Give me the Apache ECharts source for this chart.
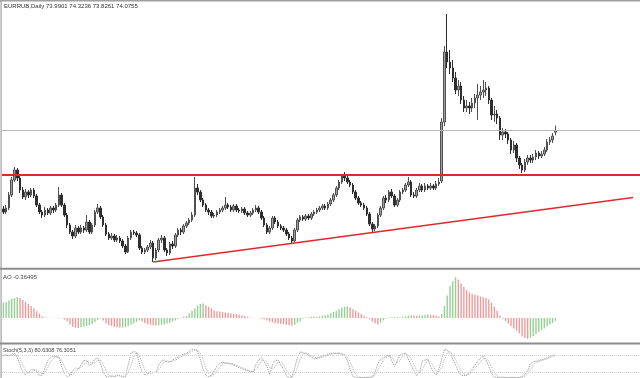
<!DOCTYPE html>
<html><head><meta charset="utf-8">
<script src="https://cdn.jsdelivr.net/npm/echarts@6/dist/echarts.min.js"></script>
<style>html,body{margin:0;padding:0;background:#fff;overflow:hidden}#c{width:640px;height:378px}</style>
</head><body><div id="c"></div>
<script>
const headerText = 'EURRUB,Daily 73.9901 74.3236 73.8261 74.0755';
const aoText = 'AO -0.36495';
const stochText = 'Stoch(5,3,3) 80.6308 76.3051';

const opens = [
70.15,70.00,70.20,70.85,71.60,72.10,71.70,71.10,70.75,71.00,
70.85,71.10,70.80,70.35,70.00,69.85,70.10,69.95,70.20,70.10,
70.35,70.85,70.35,69.85,69.35,69.00,68.80,69.20,69.00,69.20,
69.10,69.50,69.00,69.35,70.00,70.20,69.75,69.35,68.90,68.70,
68.80,68.60,68.70,68.55,68.30,68.00,68.70,69.00,68.95,68.85,
68.20,68.00,68.10,68.25,68.45,67.70,68.10,68.60,68.70,68.10,
67.95,68.40,68.30,68.85,69.10,69.00,69.30,69.45,69.60,69.85,
71.20,71.00,70.60,70.35,70.10,70.00,69.80,69.85,70.00,70.10,
70.20,70.35,70.25,70.10,70.30,70.10,70.05,70.15,69.95,69.85,
69.95,70.10,70.20,70.00,69.70,69.35,69.00,69.20,69.70,69.50,
69.30,69.20,69.10,68.90,68.70,68.55,69.10,69.60,69.75,69.65,
69.80,69.70,69.90,70.00,70.10,70.20,70.30,70.20,70.40,70.60,
70.85,71.20,71.50,71.80,71.70,71.50,71.35,71.00,70.70,70.45,
70.35,70.20,69.90,69.40,69.15,69.30,69.85,70.20,70.70,70.60,
71.00,70.80,70.35,70.60,71.00,71.10,71.35,71.50,70.85,70.80,
71.10,71.30,71.10,71.30,71.20,71.30,71.20,71.40,71.55,74.50,
78.00,77.50,77.20,76.70,76.10,76.30,75.60,75.20,75.30,75.20,
75.45,75.70,75.85,76.00,76.10,76.20,75.60,74.85,74.90,74.70,
73.85,74.00,73.90,73.60,73.10,73.35,72.70,72.35,72.10,72.50,
72.70,72.60,72.75,72.95,72.80,72.90,73.10,73.50,73.60,73.99];

const closes = [
70.00,70.20,70.85,71.60,72.10,71.70,71.10,70.75,71.00,70.85,
71.10,70.80,70.35,70.00,69.85,70.10,69.95,70.20,70.10,70.35,
70.85,70.35,69.85,69.35,69.00,68.80,69.20,69.00,69.20,69.10,
69.50,69.00,69.35,70.00,70.20,69.75,69.35,68.90,68.70,68.80,
68.60,68.70,68.55,68.30,68.00,68.70,69.00,68.95,68.85,68.20,
68.00,68.10,68.25,68.45,67.70,68.10,68.60,68.70,68.10,67.95,
68.40,68.30,68.85,69.10,69.00,69.30,69.45,69.60,69.85,71.20,
71.00,70.60,70.35,70.10,70.00,69.80,69.85,70.00,70.10,70.20,
70.35,70.25,70.10,70.30,70.10,70.05,70.15,69.95,69.85,69.95,
70.10,70.20,70.00,69.70,69.35,69.00,69.20,69.70,69.50,69.30,
69.20,69.10,68.90,68.70,68.55,69.10,69.60,69.75,69.65,69.80,
69.70,69.90,70.00,70.10,70.20,70.30,70.20,70.40,70.60,70.85,
71.20,71.50,71.80,71.70,71.50,71.35,71.00,70.70,70.45,70.35,
70.20,69.90,69.40,69.15,69.30,69.85,70.20,70.70,70.60,71.00,
70.80,70.35,70.60,71.00,71.10,71.35,71.50,70.85,70.80,71.10,
71.30,71.10,71.30,71.20,71.30,71.20,71.40,71.50,74.50,78.00,
77.50,77.20,76.70,76.10,76.30,75.60,75.20,75.30,75.20,75.45,
75.70,75.85,76.00,76.10,76.20,75.60,74.85,74.90,74.70,73.85,
74.00,73.90,73.60,73.10,73.35,72.70,72.35,72.10,72.50,72.70,
72.60,72.75,72.95,72.80,72.90,73.10,73.50,73.60,73.80,74.08];

const lows = [
69.90,69.90,70.10,70.75,71.50,71.55,70.95,70.65,70.60,70.70,
70.75,70.70,70.25,69.90,69.70,69.75,69.85,69.85,69.95,70.00,
70.25,70.25,69.75,69.20,68.90,68.65,68.70,68.90,68.90,68.95,
69.00,68.90,68.90,69.25,69.90,69.65,69.25,68.80,68.60,68.60,
68.50,68.50,68.45,68.20,67.90,67.95,68.60,68.85,68.75,68.10,
67.90,67.90,68.00,68.15,67.50,67.60,68.00,68.45,68.00,67.80,
67.85,68.15,68.20,68.75,68.85,68.90,69.20,69.35,69.50,69.75,
70.85,70.50,70.25,70.00,69.85,69.70,69.70,69.75,69.90,70.00,
70.10,70.15,70.00,70.00,70.00,69.95,69.95,69.85,69.75,69.75,
69.85,70.00,69.90,69.60,69.25,68.90,68.90,69.10,69.40,69.20,
69.10,69.00,68.80,68.60,68.45,68.50,69.00,69.50,69.55,69.55,
69.60,69.60,69.80,69.90,70.00,70.10,70.10,70.10,70.30,70.50,
70.75,71.10,71.40,71.55,71.40,71.25,70.90,70.60,70.35,70.25,
70.10,69.80,69.30,69.00,69.05,69.20,69.75,70.10,70.45,70.50,
70.70,70.25,70.25,70.50,70.90,71.00,71.25,70.75,70.70,70.70,
71.00,71.00,71.00,71.10,71.10,71.10,71.10,71.30,71.45,74.30,
77.20,76.90,76.50,75.90,75.80,75.40,75.00,75.00,74.90,75.00,
75.20,74.60,75.60,75.70,75.80,75.40,74.60,74.50,74.40,73.60,
73.60,73.70,73.40,72.90,72.95,72.50,72.15,71.95,72.00,72.35,
72.45,72.45,72.60,72.65,72.70,72.80,73.00,73.35,73.45,73.83];

const highs = [
70.30,70.35,71.00,71.75,72.25,72.20,71.80,71.25,71.15,71.10,
71.20,71.20,70.90,70.45,70.10,70.25,70.20,70.30,70.30,70.45,
71.25,70.95,70.45,69.95,69.45,69.10,69.35,69.30,69.35,69.30,
69.85,69.60,69.45,70.10,70.40,70.30,69.85,69.45,69.00,68.95,
68.90,68.85,68.80,68.65,68.40,68.80,69.10,69.10,69.05,68.95,
68.30,68.20,68.35,68.60,68.55,68.20,68.70,68.85,68.80,68.20,
68.50,68.55,68.95,69.20,69.20,69.40,69.55,69.70,70.00,71.75,
71.40,71.10,70.70,70.45,70.20,70.10,69.95,70.10,70.20,70.30,
70.75,70.45,70.35,70.40,70.40,70.20,70.25,70.25,70.05,70.05,
70.20,70.35,70.30,70.10,69.80,69.45,69.30,69.80,69.80,69.60,
69.40,69.30,69.20,69.00,68.80,69.20,69.70,69.85,69.85,69.90,
69.90,70.00,70.10,70.20,70.30,70.40,70.40,70.50,70.70,70.95,
71.30,71.60,71.90,72.00,71.80,71.60,71.45,71.10,70.80,70.55,
70.45,70.30,70.00,69.50,69.40,69.95,70.30,70.80,70.85,71.10,
71.15,70.90,70.70,71.10,71.20,71.45,71.75,71.60,71.00,71.20,
71.45,71.40,71.45,71.40,71.45,71.40,71.55,71.70,74.70,78.30,
79.90,78.10,77.60,77.00,76.60,76.50,75.80,75.60,75.50,75.70,
75.90,76.40,76.30,76.60,76.50,76.30,75.70,75.30,75.10,74.80,
74.20,74.15,74.00,73.70,73.55,73.45,72.80,72.45,72.65,72.85,
72.85,72.90,73.10,73.05,73.05,73.25,73.65,73.75,73.95,74.32];

const aoValues = [
1.9,2.0,2.2,2.4,2.5,2.6,2.5,2.25,2.0,1.75,
1.5,1.2,0.85,0.55,0.2,0.05,0.03,0.02,-0.02,0.03,
0.05,-0.05,-0.2,-0.4,-0.8,-1.1,-1.2,-1.25,-1.15,-1.1,
-1.0,-0.9,-0.75,-0.5,-0.25,-0.1,-0.3,-0.7,-0.9,-1.0,
-1.1,-1.15,-1.2,-1.2,-1.15,-1.0,-0.85,-0.7,-0.5,-0.3,
-0.45,-0.65,-0.8,-0.85,-0.9,-0.95,-0.9,-0.85,-0.8,-0.7,
-0.6,-0.45,-0.3,-0.1,0.02,0.15,0.25,0.6,0.9,1.2,
1.55,1.75,1.8,1.6,1.4,1.2,0.95,0.85,0.8,0.75,
0.7,0.65,0.6,0.55,0.5,0.4,0.3,0.25,0.15,0.05,
-0.02,0.02,-0.03,-0.1,-0.2,-0.3,-0.45,-0.55,-0.65,-0.7,
-0.75,-0.8,-0.85,-0.9,-0.95,-0.85,-0.6,-0.4,-0.1,0.05,
0.1,0.15,0.2,0.15,0.2,0.3,0.35,0.45,0.6,0.75,
0.9,1.1,1.3,1.4,1.45,1.35,1.1,0.9,0.7,0.5,
0.3,0.1,-0.15,-0.45,-0.65,-0.8,-0.6,-0.3,-0.1,0.05,
0.05,0.1,0.1,0.1,0.15,0.2,0.3,0.35,0.3,0.25,
0.3,0.35,0.4,0.45,0.4,0.35,0.3,0.2,0.5,1.5,
2.8,4.0,4.6,5.1,4.8,4.3,3.9,3.5,3.2,3.0,
2.9,2.8,2.7,2.6,2.5,2.3,1.9,1.4,0.9,0.3,
-0.1,-0.4,-0.7,-1.0,-1.3,-1.6,-1.9,-2.3,-2.5,-2.6,
-2.45,-2.25,-2.0,-1.75,-1.5,-1.3,-1.05,-0.8,-0.6,-0.365];

const stochMain = [
78,80,75,82,85,70,45,20,10,20,
28,30,22,8,10,35,60,72,75,73,
70,40,15,5,10,25,35,30,45,60,
62,42,50,65,70,50,20,5,3,8,
5,10,8,3,5,45,85,92,88,50,
20,10,15,22,18,20,45,60,62,55,
55,62,68,72,78,82,85,92,100,98,
92,65,30,8,5,8,25,40,50,55,
52,50,48,45,40,36,32,28,25,22,
20,45,62,70,55,40,12,45,60,62,
45,30,8,2,2,35,70,90,88,84,
78,72,66,68,72,76,78,82,85,86,
85,86,82,78,60,30,5,2,1,2,
1,3,2,4,20,50,65,70,75,80,
60,40,60,80,84,86,65,45,25,8,
20,58,62,65,40,22,10,30,65,98,
96,85,65,45,25,10,8,10,20,30,
45,58,68,75,60,40,15,3,2,1,
3,2,1,2,2,1,2,5,12,25,
50,55,57,60,63,66,70,74,78,80.63];

const stochSignal = [
76,78,78,79,81,79,67,45,25,17,
19,26,27,20,13,18,35,56,69,73,
73,61,42,20,10,13,23,30,37,45,
56,55,51,52,62,62,47,25,9,5,
5,8,8,7,5,18,45,74,88,77,
53,27,15,16,18,20,28,42,56,59,
57,57,62,67,73,77,82,86,92,97,
97,85,62,34,14,7,13,24,38,48,
52,52,50,48,44,40,36,32,28,25,
22,29,42,59,62,55,36,32,39,56,
56,46,28,13,4,13,36,65,83,87,
83,78,72,69,69,72,75,79,82,84,
85,86,84,82,73,56,32,12,3,2,
1,2,2,3,9,25,45,62,70,75,
72,60,53,60,75,83,78,65,45,26,
18,29,47,62,56,42,24,21,35,64,
86,93,82,65,45,27,14,9,13,20,
32,44,57,67,68,58,38,19,7,2,
2,2,2,2,2,2,2,3,6,14,
29,43,54,57,60,63,66,70,74,76.31];

const resistanceLevel = 71.85;
const trendLine = [[54, 67.5], [227, 70.72]];
const stochLevels = [80, 20];
const slotCount = 230;
const categories = Array.from({length: slotCount}, (_, i) => String(i + 1));

const candleData = closes.map((c, i) => [opens[i], c, lows[i], highs[i]]);
const lastClose = closes[closes.length - 1];
const aoData = aoValues.map((v, i) => ({
  value: v,
  itemStyle: { color: (i === 0 || v >= aoValues[i - 1]) ? '#95d195' : '#f09a9a' }
}));

const chart = echarts.init(document.getElementById('c'), null, {renderer: 'canvas'});
const xBase = { type: 'category', data: categories, show: false, boundaryGap: true };
const yBase = { show: false, splitLine: { show: false }, scale: false };
const lblFont = '"Liberation Sans", Arial, sans-serif';

chart.setOption({
  animation: false,
  backgroundColor: '#ffffff',
  grid: [
    { left: 2, right: 0, top: 1, height: 267 },
    { left: 2, right: 0, top: 270, height: 72 },
    { left: 2, right: 0, top: 349, height: 30 }
  ],
  xAxis: [
    Object.assign({ gridIndex: 0 }, xBase),
    Object.assign({ gridIndex: 1 }, xBase),
    Object.assign({ gridIndex: 2 }, xBase)
  ],
  yAxis: [
    Object.assign({ gridIndex: 0, min: 67.2, max: 80.55 }, yBase),
    Object.assign({ gridIndex: 1, min: -3, max: 6 }, yBase),
    Object.assign({ gridIndex: 2, min: 0, max: 100 }, yBase)
  ],
  series: [
    {
      type: 'candlestick', xAxisIndex: 0, yAxisIndex: 0, data: candleData,
      barWidth: 2,
      itemStyle: { color: '#a0a0a0', color0: '#2e2e2e', borderColor: '#505050', borderColor0: '#2e2e2e', borderWidth: 1 },
      markLine: {
        silent: true, symbol: ['none', 'none'], label: { show: false }, animation: false,
        data: [
          { yAxis: lastClose, lineStyle: { color: '#b8b8b8', width: 1, type: 'solid' } },
          { yAxis: resistanceLevel, lineStyle: { color: '#e0282c', width: 2, type: 'solid' } },
          [ { coord: trendLine[0], lineStyle: { color: '#e0282c', width: 1.5, type: 'solid' } }, { coord: trendLine[1] } ]
        ]
      }
    },
    {
      type: 'bar', xAxisIndex: 1, yAxisIndex: 1, data: aoData, barWidth: 1.4
    },
    {
      type: 'line', xAxisIndex: 2, yAxisIndex: 2, data: stochMain, showSymbol: false, symbol: 'none',
      lineStyle: { color: '#909090', width: 1, type: 'dotted' },
      markLine: {
        silent: true, symbol: ['none', 'none'], label: { show: false },
        data: stochLevels.map(v => ({ yAxis: v })),
        lineStyle: { color: '#d0d0d0', width: 1, type: 'dotted' }
      }
    },
    {
      type: 'line', xAxisIndex: 2, yAxisIndex: 2, data: stochSignal, showSymbol: false, symbol: 'none',
      lineStyle: { color: '#b0b0b0', width: 1, type: 'dotted' }
    }
  ],
  graphic: [
    { type: 'rect', shape: { x: 0, y: 0, width: 640, height: 1.5 }, style: { fill: '#a0a0a0' }, silent: true },
    { type: 'rect', shape: { x: 0.5, y: 0, width: 1.2, height: 378 }, style: { fill: '#a0a0a0' }, silent: true },
    { type: 'rect', shape: { x: 0, y: 267.8, width: 640, height: 2 }, style: { fill: '#8c8c8c' }, silent: true },
    { type: 'rect', shape: { x: 0, y: 342.5, width: 640, height: 2 }, style: { fill: '#8c8c8c' }, silent: true },
    { type: 'text', left: 4, top: 3, style: { text: headerText, fill: '#333', font: '6px ' + lblFont } },
    { type: 'text', left: 3, top: 274, style: { text: aoText, fill: '#444', font: '6px ' + lblFont } },
    { type: 'text', left: 3, top: 347, style: { text: stochText, fill: '#444', font: '5.5px ' + lblFont } }
  ]
});
</script>
</body></html>
